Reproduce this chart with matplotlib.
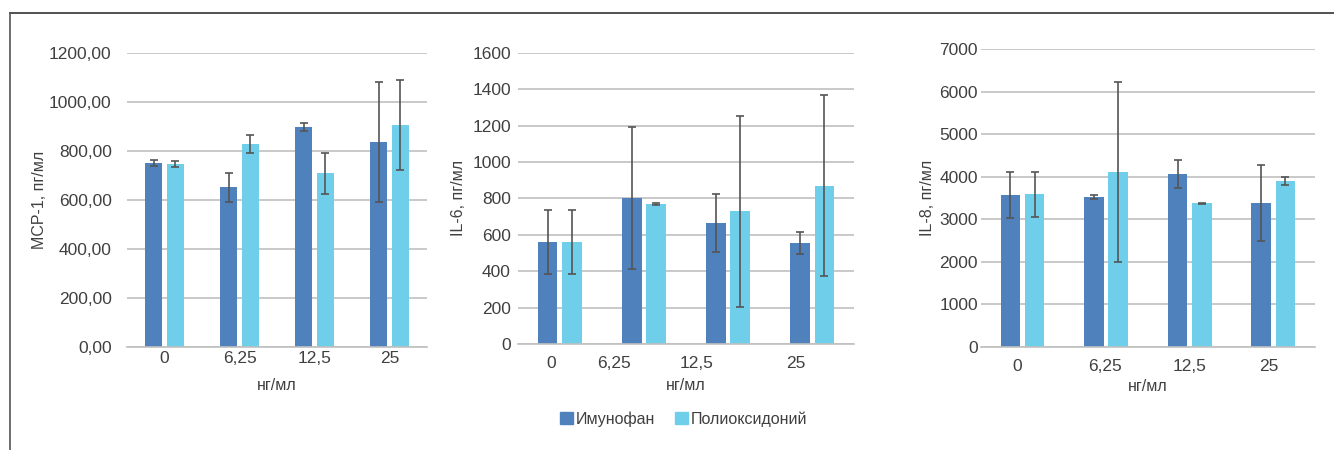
import numpy as np
import matplotlib.pyplot as plt
from matplotlib.lines import Line2D
from matplotlib.patches import Patch

plt.rcParams['font.family'] = ['Liberation Sans', 'DejaVu Sans']

categories = ['0', '6,25', '12,5', '25']
series = ['Имунофан', 'Полиоксидоний']

mcp_imun = [748, 650, 897, 834]
mcp_imun_err = [12, 60, 15, 245]
mcp_poly = [744, 827, 708, 905]
mcp_poly_err = [12, 36, 84, 185]

il6_imun = [560, 802, 665, 555]
il6_imun_err = [177, 388, 161, 59]
il6_poly = [560, 769, 729, 868]
il6_poly_err = [177, 3, 524, 497]

il8_imun = [3574, 3527, 4068, 3386]
il8_imun_err = [533, 45, 318, 890]
il8_poly = [3590, 4115, 3378, 3903]
il8_poly_err = [533, 2124, 10, 100]

dark = '#4f81bd'
light = '#6fcfeb'
text_c = '#404040'
grid_c = '#c0c0c0'

fig = plt.figure(figsize=(13.34, 4.5), dpi=100)

panels = [
    dict(rect=[0.0952, 0.2296, 0.2249, 0.6533], a=mcp_imun, ae=mcp_imun_err,
         b=mcp_poly, be=mcp_poly_err, ymax=1200, step=200, fmt='{:.2f}',
         ylabel='MCP-1, пг/мл', tickpos=[0, 1, 2, 3], ylab_x=-0.267,
         xpad=3, ypad=11, xlab_pad=9),
    dict(rect=[0.3881, 0.2356, 0.2523, 0.6473], a=il6_imun, ae=il6_imun_err,
         b=il6_poly, be=il6_poly_err, ymax=1600, step=200, fmt='{:.0f}',
         ylabel='IL-6, пг/мл', tickpos=[-0.1, 0.65, 1.63, 2.81], ylab_x=-0.153,
         xpad=9, ypad=5, xlab_pad=5),
    dict(rect=[0.7352, 0.2289, 0.2506, 0.6616], a=il8_imun, ae=il8_imun_err,
         b=il8_poly, be=il8_poly_err, ymax=7000, step=1000, fmt='{:.0f}',
         ylabel='IL-8, пг/мл', tickpos=[-0.07, 0.99, 2.0, 2.95], ylab_x=-0.138,
         xpad=9, ypad=2, xlab_pad=3),
]

x = np.arange(len(categories))
w = 0.235
off = 0.145

for p in panels:
    ax = fig.add_axes(p['rect'])
    ax.bar(x - off, p['a'], w, color=dark, zorder=2)
    ax.bar(x + off, p['b'], w, color=light, zorder=2)
    ax.errorbar(x - off, p['a'], yerr=p['ae'], fmt='none', ecolor='#555555',
                elinewidth=1.2, capsize=3, capthick=1.2, zorder=3)
    ax.errorbar(x + off, p['b'], yerr=p['be'], fmt='none', ecolor='#555555',
                elinewidth=1.2, capsize=3, capthick=1.2, zorder=3)
    ax.set_xlim(-0.5, 3.5)
    ax.set_ylim(0, p['ymax'])
    yt = np.arange(0, p['ymax'] + 1, p['step'])
    ax.set_yticks(yt)
    ax.set_yticklabels([p['fmt'].format(v).replace('.', ',') for v in yt])
    ax.set_xticks(p['tickpos'])
    ax.set_xticklabels(categories)
    ax.grid(axis='y', color=grid_c, lw=1.2, zorder=0)
    for s in ['top', 'right', 'left']:
        ax.spines[s].set_visible(False)
    ax.spines['bottom'].set_color(grid_c)
    ax.spines['bottom'].set_linewidth(1.2)
    ax.tick_params(length=0, labelsize=12.5, colors=text_c)
    ax.tick_params(axis='x', pad=p['xpad'])
    ax.tick_params(axis='y', pad=p['ypad'])
    ax.set_xlabel('нг/мл', fontsize=11.5, color=text_c, labelpad=p['xlab_pad'])
    ax.set_ylabel(p['ylabel'], fontsize=11.5, color=text_c)
    ax.yaxis.set_label_coords(p['ylab_x'], 0.5)

fig.legend(handles=[Patch(color=dark, label=series[0]),
                    Patch(color=light, label=series[1])],
           loc='center', bbox_to_anchor=(0.5125, 0.069), ncol=2, frameon=False,
           fontsize=11.5, labelcolor=text_c, handlelength=0.8, handleheight=0.8,
           handletextpad=0.15, columnspacing=1.3)

# frame around the figure
fig.add_artist(Line2D([0.0073, 1.0], [0.9704, 0.9704], color='#333333', lw=1.2))
fig.add_artist(Line2D([0.0073, 0.0073], [0.0, 0.9704], color='#555555', lw=1.2))

fig.savefig('out.png', dpi=100)
